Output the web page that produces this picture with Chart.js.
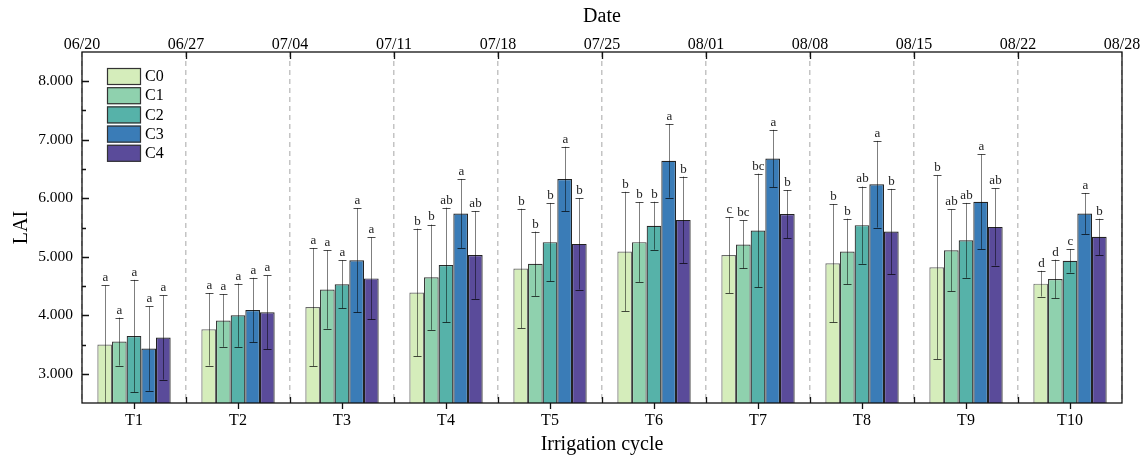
<!DOCTYPE html>
<html>
<head>
<meta charset="utf-8">
<script src="https://cdn.jsdelivr.net/npm/chart.js@4.4.0/dist/chart.umd.min.js"></script>
<style>
  html, body { margin: 0; padding: 0; background: #fff; }
</style>
</head>
<body>
<canvas id="lai-chart" width="1148" height="457"></canvas>
<script>
// irrigation cycles and the date boundaries between them
const cycles = ["T1", "T2", "T3", "T4", "T5", "T6", "T7", "T8", "T9", "T10"];
const dateTicks = ["06/20", "06/27", "07/04", "07/11", "07/18", "07/25", "08/01", "08/08", "08/15", "08/22", "08/28"];
const seriesNames = ["C0", "C1", "C2", "C3", "C4"];

// mean LAI per treatment
const meanC0 = [3.50, 3.76, 4.14, 4.39, 4.80, 5.09, 5.03, 4.89, 4.82, 4.54];
const meanC1 = [3.55, 3.91, 4.44, 4.65, 4.88, 5.25, 5.21, 5.09, 5.11, 4.62];
const meanC2 = [3.645, 4.00, 4.53, 4.86, 5.25, 5.53, 5.45, 5.54, 5.28, 4.93];
const meanC3 = [3.43, 4.09, 4.94, 5.74, 6.33, 6.64, 6.68, 6.24, 5.94, 5.74];
const meanC4 = [3.62, 4.05, 4.63, 5.03, 5.22, 5.63, 5.73, 5.43, 5.51, 5.34];

// standard deviation (error bars)
const sdC0 = [1.01, 0.62, 1.01, 1.09, 1.02, 1.02, 0.65, 1.01, 1.57, 0.22];
const sdC1 = [0.41, 0.45, 0.67, 0.90, 0.55, 0.68, 0.41, 0.56, 0.70, 0.33];
const sdC2 = [0.96, 0.54, 0.41, 0.98, 0.67, 0.41, 0.97, 0.66, 0.64, 0.20];
const sdC3 = [0.72, 0.55, 0.89, 0.59, 0.55, 0.63, 0.49, 0.74, 0.81, 0.35];
const sdC4 = [0.72, 0.63, 0.70, 0.75, 0.78, 0.74, 0.41, 0.73, 0.66, 0.31];

// significance letters
const letC0 = ["a", "a", "a", "b", "b", "b", "c", "b", "b", "d"];
const letC1 = ["a", "a", "a", "b", "b", "b", "bc", "b", "ab", "d"];
const letC2 = ["a", "a", "a", "ab", "b", "b", "bc", "ab", "ab", "c"];
const letC3 = ["a", "a", "a", "a", "a", "a", "a", "a", "a", "a"];
const letC4 = ["a", "a", "a", "ab", "b", "b", "b", "b", "ab", "b"];

const yTickValues = [3, 4, 5, 6, 7, 8];

const means = [meanC0, meanC1, meanC2, meanC3, meanC4];
const sds = [sdC0, sdC1, sdC2, sdC3, sdC4];
const letters = [letC0, letC1, letC2, letC3, letC4];

const fills = ["#d5edbb", "#8fd1ae", "#56b2a9", "#3a7cb7", "#5a4b9a"];
const edges = ["#6a6a6a", "#3a3a3a", "#2a2a2a", "#222222", "#222222"];
const serif = "'Liberation Serif', 'Times New Roman', serif";

const errorBars = {
  id: "errorBars",
  afterDatasetsDraw(chart) {
    const { ctx, chartArea } = chart;
    const yScale = chart.scales.y;
    ctx.save();
    ctx.beginPath();
    ctx.rect(chartArea.left, chartArea.top, chartArea.width, chartArea.height);
    ctx.clip();
    chart.data.datasets.forEach((ds, i) => {
      const meta = chart.getDatasetMeta(i);
      meta.data.forEach((bar, j) => {
        const m = means[i][j];
        const s = sds[i][j];
        const x = Math.round(bar.x) + 0.5;
        const yHi = yScale.getPixelForValue(m + s);
        const yLo = Math.min(yScale.getPixelForValue(m - s), chartArea.bottom);
        ctx.lineWidth = 1;
        ctx.strokeStyle = "rgba(0,0,0,0.5)";
        ctx.beginPath();
        ctx.moveTo(x, yHi);
        ctx.lineTo(x, yLo);
        ctx.stroke();
        ctx.strokeStyle = "rgba(0,0,0,0.7)";
        ctx.beginPath();
        ctx.moveTo(x - 4, Math.round(yHi) + 0.5);
        ctx.lineTo(x + 4, Math.round(yHi) + 0.5);
        if (yLo < chartArea.bottom) {
          ctx.moveTo(x - 4, Math.round(yLo) + 0.5);
          ctx.lineTo(x + 4, Math.round(yLo) + 0.5);
        }
        ctx.stroke();
        ctx.fillStyle = "#222";
        ctx.font = "13px " + serif;
        ctx.textAlign = "center";
        ctx.textBaseline = "bottom";
        ctx.fillText(letters[i][j], x, yHi - 1);
      });
    });
    ctx.restore();
  },
};

const frameAndTicks = {
  id: "frameAndTicks",
  afterDraw(chart) {
    const { ctx, chartArea } = chart;
    const { left, right, top, bottom } = chartArea;
    const yScale = chart.scales.y;
    const xScale = chart.scales.x;
    const x2 = chart.scales.x2;
    ctx.save();
    ctx.strokeStyle = "#111";
    ctx.lineWidth = 1.3;
    ctx.strokeRect(left, top, right - left, bottom - top);
    ctx.beginPath();
    // y ticks, inward
    for (let v = 3; v <= 8; v += 0.5) {
      const y = Math.round(yScale.getPixelForValue(v)) + 0.5;
      const len = Number.isInteger(v) ? 7 : 4;
      ctx.moveTo(left, y);
      ctx.lineTo(left + len, y);
    }
    // bottom: category centers outward, boundaries inward
    cycles.forEach((c, j) => {
      const x = Math.round(xScale.getPixelForValue(j)) + 0.5;
      ctx.moveTo(x, bottom);
      ctx.lineTo(x, bottom + 6);
    });
    for (let k = 1; k < dateTicks.length - 1; k++) {
      const x = Math.round(x2.getPixelForValue(k)) + 0.5;
      ctx.moveTo(x, bottom);
      ctx.lineTo(x, bottom - 6);
      ctx.moveTo(x, top);
      ctx.lineTo(x, top + 7);
    }
    ctx.stroke();

    // legend
    ctx.font = "16px " + serif;
    ctx.textAlign = "left";
    ctx.textBaseline = "middle";
    seriesNames.forEach((name, i) => {
      const bx = left + 25;
      const by = top + 16 + i * 19.2;
      ctx.fillStyle = fills[i];
      ctx.fillRect(bx, by, 34, 17);
      ctx.lineWidth = 1.2;
      ctx.strokeStyle = "#333";
      ctx.strokeRect(bx + 0.5, by + 0.5, 33, 16);
      ctx.fillStyle = "#000";
      ctx.fillText(name, bx + 38, by + 9);
    });
    ctx.restore();
  },
};

const ctx = document.getElementById("lai-chart").getContext("2d");
const chart = new Chart(ctx, {
  type: "bar",
  data: {
    labels: cycles,
    datasets: seriesNames.map((name, i) => ({
      label: name,
      data: means[i],
      backgroundColor: fills[i],
      borderColor: edges[i],
      borderWidth: 1.2,
      barPercentage: 1,
      categoryPercentage: 0.705,
    })),
  },
  options: {
    responsive: false,
    animation: false,
    layout: { padding: { left: 0, right: 26, top: 0, bottom: 0 } },
    plugins: {
      legend: { display: false },
      tooltip: { enabled: false },
    },
    scales: {
      x: {
        position: "bottom",
        offset: true,
        grid: {
          display: true,
          offset: true,
          drawTicks: false,
          color: "#c4c4c4",
          lineWidth: 1.5,
        },
        border: { display: false, dash: [5, 4] },
        ticks: {
          color: "#000",
          padding: 8,
          font: { family: serif, size: 16 },
        },
        title: {
          display: true,
          text: "Irrigation cycle",
          color: "#000",
          font: { family: serif, size: 20 },
          padding: { top: 5, bottom: 0 },
        },
        afterFit: (s) => {
          s.height = 54;
        },
      },
      x2: {
        type: "linear",
        position: "top",
        offset: false,
        min: 0,
        max: 10,
        grid: { display: false, drawTicks: false, offset: false },
        border: { display: false },
        ticks: {
          stepSize: 1,
          autoSkip: false,
          maxRotation: 0,
          padding: -2,
          color: "#000",
          font: { family: serif, size: 16 },
          callback: (v) => dateTicks[v],
        },
        title: {
          display: true,
          text: "Date",
          color: "#000",
          font: { family: serif, size: 20 },
          padding: { top: 5, bottom: 3 },
        },
        afterFit: (s) => {
          s.height = 52;
          s.paddingLeft = 0;
          s.paddingRight = 0;
        },
      },
      y: {
        min: 2.5,
        max: 8.5,
        grid: { display: false, drawTicks: false },
        border: { display: false },
        ticks: {
          stepSize: 0.5,
          autoSkip: false,
          padding: 9,
          color: "#000",
          font: { family: serif, size: 15.5 },
          callback: (v) => (yTickValues.includes(v) ? v.toFixed(3) : ""),
        },
        title: {
          display: true,
          text: "LAI",
          color: "#000",
          font: { family: serif, size: 20 },
          padding: { top: 10, bottom: 0 },
        },
        afterFit: (s) => {
          s.width = 82;
        },
      },
    },
  },
  plugins: [errorBars, frameAndTicks],
});
</script>
</body>
</html>
